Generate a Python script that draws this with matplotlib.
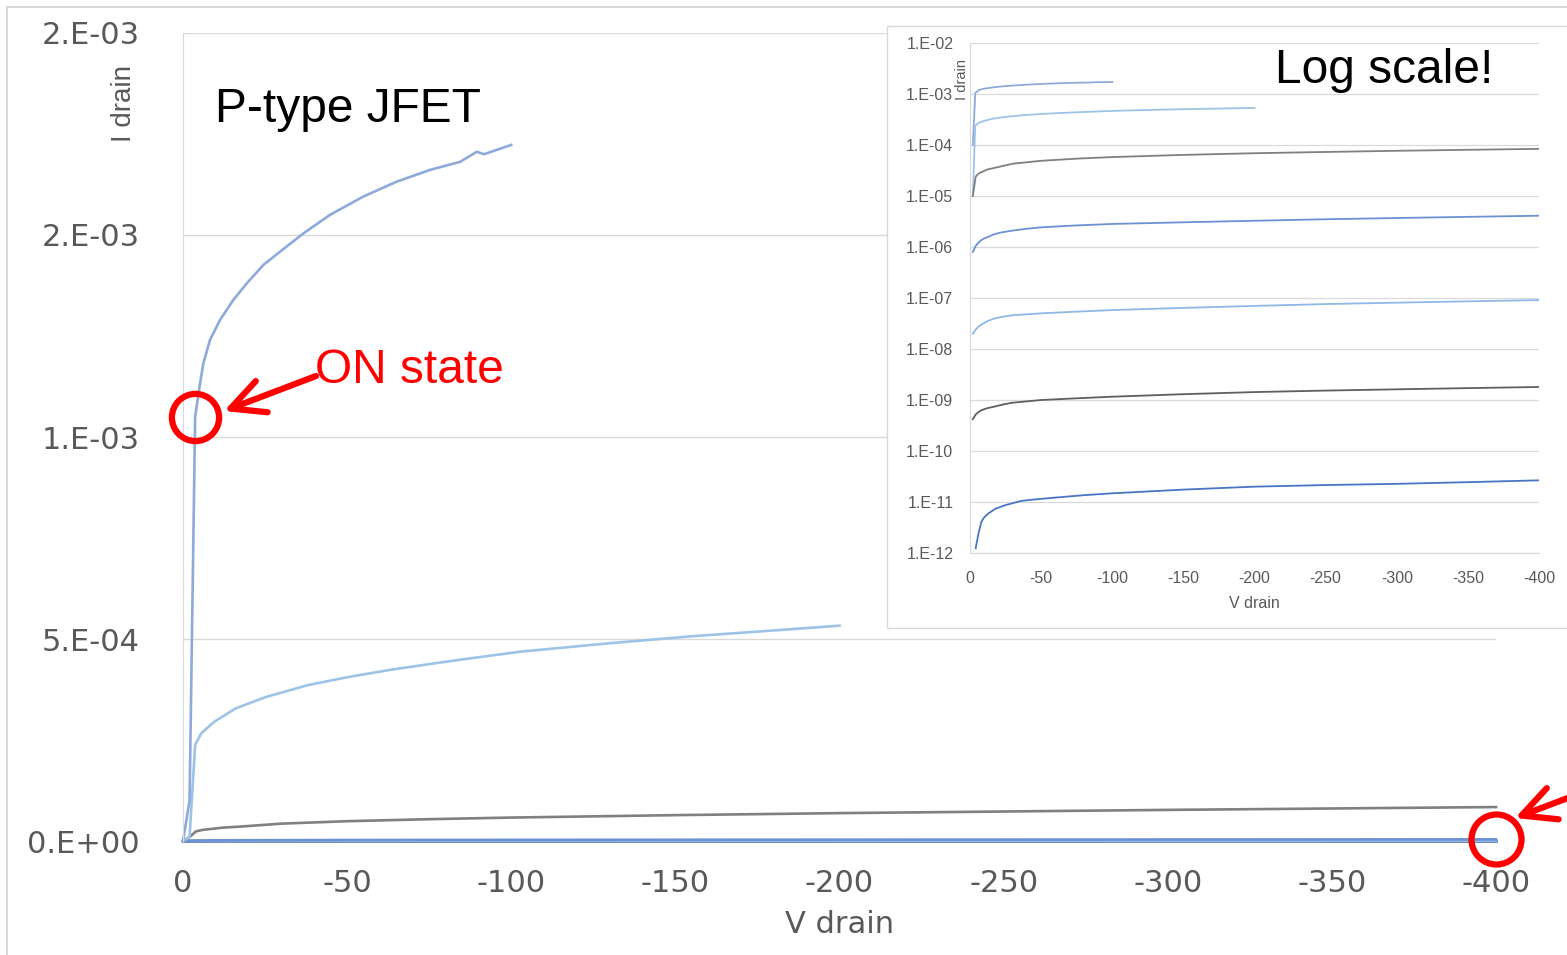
# P-type JFET drain curves: linear plot with log-scale inset

import numpy as np
import matplotlib.pyplot as plt
from matplotlib.patches import Rectangle
from matplotlib.ticker import NullLocator
from matplotlib import font_manager

W, H = 1567, 955

# data (V drain in volts, I drain in amps)
v_on = [0, -2, -3.7, -5.2, -6.2, -8.2, -11.3, -15.3, -19.4, -24.5, -29.6, -36.7, -44.8,
        -54.9, -65.1, -75.2, -84.4, -89.5, -91.7, -100]
i_on = [0, 1.0e-4, 1.05e-3, 1.133e-3, 1.182e-3, 1.24e-3, 1.29e-3, 1.339e-3, 1.38e-3, 1.426e-3,
        1.459e-3, 1.504e-3, 1.55e-3, 1.595e-3, 1.632e-3, 1.661e-3, 1.681e-3, 1.706e-3, 1.70e-3, 1.723e-3]

v_2 = [0, -2, -3.7, -5.6, -9.5, -16, -25.1, -38.1, -51.1, -64.2, -83.7, -103.2, -129.3,
       -155.3, -181.4, -200]
i_2 = [0, 1.0e-5, 2.38e-4, 2.67e-4, 2.95e-4, 3.28e-4, 3.56e-4, 3.86e-4, 4.07e-4, 4.25e-4,
       4.48e-4, 4.69e-4, 4.89e-4, 5.07e-4, 5.22e-4, 5.33e-4]

v_3 = [0, -2, -4, -6, -12, -18, -30, -50, -75, -100, -150, -200, -250, -300, -350, -400]
i_3 = [0, 1.0e-5, 2.4e-5, 2.75e-5, 3.3e-5, 3.6e-5, 4.3e-5, 4.9e-5, 5.4e-5, 5.8e-5,
       6.4e-5, 6.9e-5, 7.3e-5, 7.7e-5, 8.05e-5, 8.4e-5]

v_4 = [0, -2, -4, -6, -8, -10, -13, -17, -22, -30, -40, -50, -75, -100, -150, -200,
       -250, -300, -350, -400]
i_4 = [0, 8e-7, 1.05e-6, 1.22e-6, 1.37e-6, 1.47e-6, 1.59e-6, 1.78e-6, 1.93e-6, 2.1e-6,
       2.28e-6, 2.43e-6, 2.65e-6, 2.83e-6, 3.05e-6, 3.27e-6, 3.5e-6, 3.7e-6, 3.9e-6, 4.1e-6]

v_5 = [0, -2, -4, -6, -8, -12, -17, -22, -30, -40, -50, -75, -100, -150, -200, -250,
       -300, -350, -400]
i_5 = [0, 2.0e-8, 2.4e-8, 2.75e-8, 3.0e-8, 3.5e-8, 3.95e-8, 4.25e-8, 4.6e-8, 4.8e-8,
       5.0e-8, 5.4e-8, 5.8e-8, 6.4e-8, 7.0e-8, 7.6e-8, 8.1e-8, 8.6e-8, 9.1e-8]

v_6 = [0, -2, -4, -6, -8, -12, -17, -22, -29, -40, -50, -75, -100, -150, -200, -250,
       -300, -350, -400]
i_6 = [0, 4.2e-10, 5.2e-10, 5.8e-10, 6.3e-10, 6.9e-10, 7.4e-10, 8.0e-10, 8.8e-10, 9.4e-10,
       1.0e-9, 1.08e-9, 1.16e-9, 1.3e-9, 1.43e-9, 1.53e-9, 1.62e-9, 1.71e-9, 1.8e-9]

v_7 = [0, -2, -4, -6, -8, -10, -13, -18, -25, -36, -45, -60, -80, -100, -150, -200,
       -250, -300, -350, -400]
i_7 = [0, 0, 1.24e-12, 2.43e-12, 4.1e-12, 5.0e-12, 6.0e-12, 7.4e-12, 8.7e-12, 1.05e-11,
       1.12e-11, 1.22e-11, 1.36e-11, 1.48e-11, 1.75e-11, 2.0e-11, 2.15e-11, 2.27e-11,
       2.45e-11, 2.66e-11]

series_v = [v_on, v_2, v_3, v_4, v_5, v_6, v_7]
series_i = [i_on, i_2, i_3, i_4, i_5, i_6, i_7]
colors = ['#8eaadb', '#9dc3e6', '#808080', '#6d91d5', '#8fb8e6', '#5f5f5f', '#4a74c6']

x_ticks = [0, -50, -100, -150, -200, -250, -300, -350, -400]
y_ticks = [0, 5e-4, 1e-3, 1.5e-3, 2e-3]
y_tick_labels = ['0.E+00', '5.E-04', '1.E-03', '2.E-03', '2.E-03']
log_ticks = [1e-12, 1e-11, 1e-10, 1e-9, 1e-8, 1e-7, 1e-6, 1e-5, 1e-4, 1e-3, 1e-2]
log_tick_labels = ['1.E-12', '1.E-11', '1.E-10', '1.E-09', '1.E-08', '1.E-07',
                   '1.E-06', '1.E-05', '1.E-04', '1.E-03', '1.E-02']

# fonts
installed = {f.name for f in font_manager.fontManager.ttflist}
narrow = 'Liberation Sans Narrow' if 'Liberation Sans Narrow' in installed else 'Liberation Sans'
arial = 'Liberation Sans'
grey_txt = '#595959'
grid_c = '#d9d9d9'


def fx(px):
    return px / W


def fy(py):
    return 1 - py / H


fig = plt.figure(figsize=(W / 100, H / 100), dpi=100)

# slide border
fig.add_artist(Rectangle((fx(7), -0.1), 2, fy(7) + 0.1, transform=fig.transFigure,
                         fill=False, edgecolor=grid_c, lw=1.5, zorder=0.5))

# main linear plot (drawn in reverse so the low curves sit under the others)
ax = fig.add_axes([fx(183), fy(841), (1496 - 183) / W, (841 - 33) / H])
for v, i, c in list(zip(series_v, series_i, colors))[::-1]:
    ax.plot(v, i, color=c, lw=1.9, clip_on=False)
ax.set_xlim(0, -400)
ax.set_ylim(0, 2e-3)
ax.set_xticks(x_ticks)
ax.set_xticklabels([str(t) for t in x_ticks])
ax.set_yticks(y_ticks)
ax.set_yticklabels(y_tick_labels)
ax.tick_params(length=0, labelsize=22, labelcolor=grey_txt)
ax.tick_params(axis='y', pad=31)
ax.tick_params(axis='x', pad=20)
ax.grid(axis='y', color=grid_c, lw=1)
ax.set_axisbelow(True)
for s in ['top', 'right', 'bottom']:
    ax.spines[s].set_visible(False)
ax.spines['left'].set_color(grid_c)
ax.set_xlabel('V drain', fontsize=22, color=grey_txt, labelpad=9)
fig.text(fx(124), fy(103), 'I drain', rotation=90, ha='center', va='center',
         fontsize=20, color=grey_txt, family=narrow)

# red markings
ax.plot([v_on[2]], [i_on[2]], 'o', ms=34, mfc='none', mec='#ff0000', mew=4.5, clip_on=False, zorder=5)
ax.plot([v_4[-1]], [i_4[-1]], 'o', ms=36, mfc='none', mec='#ff0000', mew=4.5, clip_on=False, zorder=5)
arrow = dict(arrowstyle='->,head_length=1.2,head_width=0.6', color='#ff0000', lw=4.5,
             mutation_scale=20, shrinkA=0, shrinkB=0)
ax.annotate('', xy=(fx(224), fy(411)), xytext=(fx(316), fy(376)),
            xycoords='figure fraction', arrowprops=arrow, annotation_clip=False)
ax.annotate('', xy=(fx(1515), fy(818)), xytext=(fx(1610), fy(782)),
            xycoords='figure fraction', arrowprops=arrow, annotation_clip=False)

fig.text(fx(215), fy(122), 'P-type JFET', fontsize=34.5, family=arial, va='baseline')
fig.text(fx(315), fy(383), 'ON state', fontsize=34.5, family=arial, va='baseline', color='#ff0000')

# inset box and log plot
fig.add_artist(Rectangle((fx(887), fy(628)), 1, (628 - 26) / H, transform=fig.transFigure,
                         facecolor='white', edgecolor=grid_c, lw=1, zorder=1))
axin = fig.add_axes([fx(970), fy(553), 569 / W, 510 / H], zorder=2)
axin.set_facecolor('none')
for v, i, c in zip(series_v, series_i, colors):
    axin.plot(v, i, color=c, lw=1.3)
axin.set_yscale('log', nonpositive='mask')
axin.set_xlim(0, -400)
axin.set_ylim(1e-12, 1e-2)
axin.set_yticks(log_ticks)
axin.set_yticklabels(log_tick_labels)
axin.yaxis.set_minor_locator(NullLocator())
axin.set_xticks(x_ticks)
axin.set_xticklabels([str(t) for t in x_ticks])
axin.tick_params(length=0, labelsize=11.5, labelcolor=grey_txt)
for lab in axin.get_xticklabels() + axin.get_yticklabels():
    lab.set_family(narrow)
axin.tick_params(axis='y', pad=12)
axin.tick_params(axis='x', pad=13)
axin.grid(axis='y', color=grid_c, lw=0.9)
axin.set_axisbelow(True)
for s in ['top', 'right']:
    axin.spines[s].set_visible(False)
axin.spines['left'].set_color(grid_c)
axin.spines['bottom'].set_color(grid_c)
axin.set_xlabel('V drain', fontsize=11.5, color=grey_txt, family=narrow, labelpad=7)
fig.text(fx(962), fy(80), 'I drain', rotation=90, ha='center', va='center',
         fontsize=10.5, color=grey_txt, family=narrow, zorder=4)

fig.text(fx(1275), fy(83), 'Log scale!', fontsize=34.5, family=arial, va='baseline', zorder=4)

fig.savefig('out.png', dpi=100)
